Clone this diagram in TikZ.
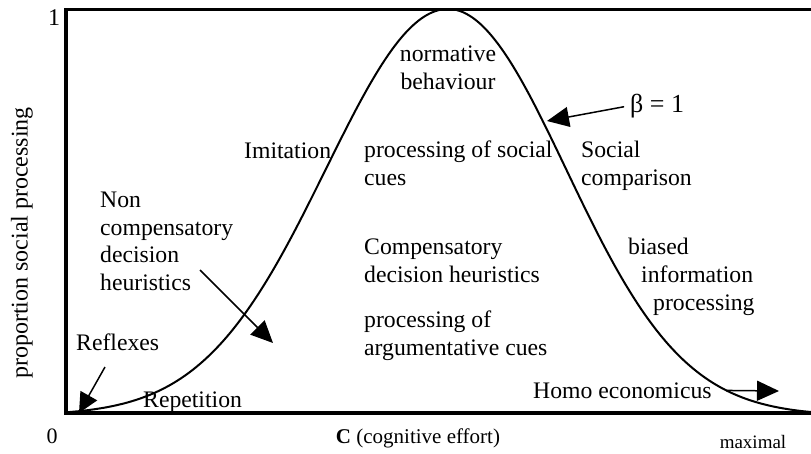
\documentclass[tikz,border=0pt]{standalone}
\usepackage{fontspec}
\setmainfont{Liberation Serif}
\usetikzlibrary{arrows.meta}

\tikzset{
  lbl/.style={anchor=base west, inner sep=0pt, align=left, font=\fontsize{23.7}{27.5}\selectfont},
  axislbl/.style={anchor=base, inner sep=0pt},
  frame/.style={line width=3.5pt, line cap=rect},
  pointer/.style={line width=1.5pt, -{Triangle[length=22pt,width=20pt]}},
}

\begin{document}
\begin{tikzpicture}[x=1pt,y=-1pt, declare function={ fl(\x)=412-403*(exp(-0.5*((\x-448)/122)^2)-0.0082)/0.9918; fr(\x)=412-403*(exp(-0.5*((\x-448)/118)^2)-0.0088)/0.9912;
                 }]
\useasboundingbox (0,0) rectangle (811,453);

    \draw[frame] (811,9.5) -- (66,9.5) -- (66,413) -- (811,413);

\draw[line width=2pt,smooth,samples=90,domain=70:448] plot(\x,{fl(\x)});
\draw[line width=2pt,smooth,samples=90,domain=448:811] plot(\x,{fr(\x)});

\node[axislbl,font=\fontsize{24}{28}\selectfont] (one) at (54,25) {1};
\node[axislbl,font=\fontsize{22}{26}\selectfont] (zero) at (52,443) {0};
\node[axislbl,font=\fontsize{21}{25}\selectfont] (ceff) at (418,443) {\textbf{C} (cognitive effort)};
\node[axislbl,font=\fontsize{19}{23}\selectfont] (maxi) at (753,448) {maximal};
\node[inner sep=0pt,rotate=90,font=\fontsize{24}{28}\selectfont] (ylab) at (22,243) {proportion social processing};

% multi-line labels sit on the baseline of their last line
\node[lbl,align=center,anchor=base] (norm) at (448,89) {normative\\behaviour};
\node[lbl,font=\fontsize{26}{30}\selectfont] (beta) at (630,112) {β = 1};
\node[lbl] (imit) at (244,158) {Imitation};
\node[lbl] (socues) at (364,185) {processing of social\\cues};
\node[lbl] (socomp) at (581,185) {Social\\comparison};
\node[lbl] (noncomp) at (100,290) {Non\\compensatory\\decision\\heuristics};
\node[lbl] (comp) at (364,282) {Compensatory\\decision heuristics};
\node[lbl] (biased) at (628,254) {biased};
\node[lbl] (inform) at (641,282) {information};
\node[lbl] (bproc) at (653,310) {processing};
\node[lbl] (argcues) at (364,355) {processing of\\argumentative cues};
\node[lbl] (reflex) at (76,350) {Reflexes};
\node[lbl] (repet) at (143,407) {Repetition};
\node[lbl] (homo) at (533,398) {Homo economicus};

\coordinate (refstart) at (105,367);
\coordinate (reftip) at (79,413);
\coordinate (ncstart) at (200,270);
\coordinate (nctip) at (273,343);
\coordinate (betatip) at (547,121);
\coordinate (homotip) at (779,391);

\draw[pointer,-{Triangle[length=20pt,width=19pt]}] (refstart) -- (reftip);
\draw[pointer] (ncstart) -- (nctip);
\draw[pointer,shorten <=6pt] (beta.west) -- (betatip);
\draw[pointer,shorten <=14pt] (homo.east) -- (homotip);

\end{tikzpicture}
\end{document}
